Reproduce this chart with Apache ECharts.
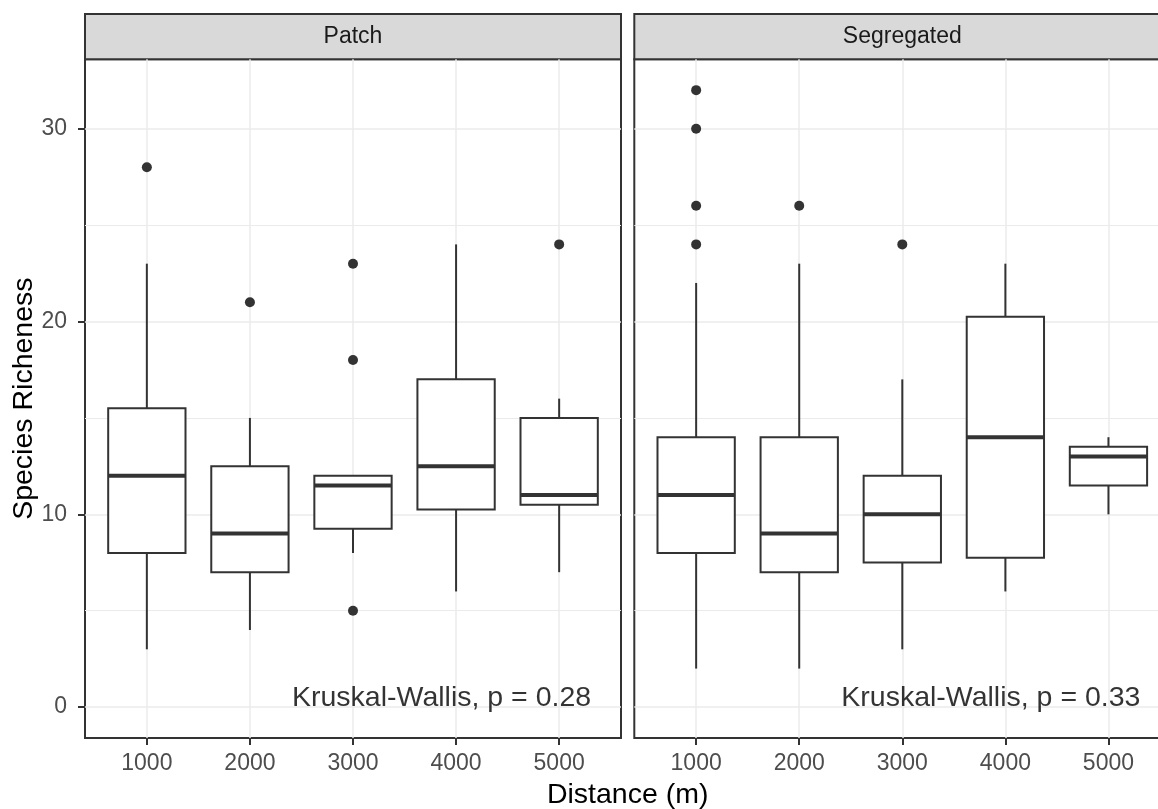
<!DOCTYPE html>
<html><head><meta charset="utf-8">
<script src="https://cdn.jsdelivr.net/npm/echarts@6/dist/echarts.min.js"></script>
<style>html,body{margin:0;padding:0;background:#fff}#chart{width:1158px;height:809px}</style>
</head><body><div id="chart"></div>
<script>
// ---- data ----
const categories = ['1000', '2000', '3000', '4000', '5000'];
const panelNames = ['Patch', 'Segregated'];
const pValues = ['0.28', '0.33'];
const yTicks = [0, 10, 20, 30];
const yMinorTicks = [5, 15, 25];

const patchLower  = [3, 4, 8, 6, 7];
const patchQ1     = [8, 7, 9.25, 10.25, 10.5];
const patchMedian = [12, 9, 11.5, 12.5, 11];
const patchQ3     = [15.5, 12.5, 12, 17, 15];
const patchUpper  = [23, 15, 12, 24, 16];
const patchOutliers = [[28], [21], [23, 18, 5], [], [24]];

const segLower  = [2, 2, 3, 6, 10];
const segQ1     = [8, 7, 7.5, 7.75, 11.5];
const segMedian = [11, 9, 10, 14, 13];
const segQ3     = [14, 14, 12, 20.25, 13.5];
const segUpper  = [22, 23, 17, 23, 14];
const segOutliers = [[32, 30, 26, 24], [26], [24], [], []];

// ---- layout / style ----
const FONT = '"Liberation Sans", Arial, sans-serif';
const DARK = '#333333';
const GRIDC = '#ebebeb';
const BOX_W = 0.75;
const panelLeft = [85, 634.3];
const panelTop = 59.3, panelW = 536, panelH = 678.7;
const stripTop = 14;
const yMin = -1.6, yMax = 33.6;
const xMin = 0.4, xMax = 5.6;
const catPos = categories.map((c, i) => i + 1);

const panels = [
  {lower: patchLower, q1: patchQ1, med: patchMedian, q3: patchQ3, upper: patchUpper, out: patchOutliers},
  {lower: segLower, q1: segQ1, med: segMedian, q3: segQ3, upper: segUpper, out: segOutliers}
];

const grid = [], xAxis = [], yAxis = [], series = [], graphic = [];

panels.forEach((p, gi) => {
  grid.push({left: panelLeft[gi], top: panelTop, width: panelW, height: panelH,
    outerBoundsMode: 'none', containLabel: false,
    show: true, backgroundColor: '#ffffff', borderColor: DARK, borderWidth: 2});
  xAxis.push({type: 'value', gridIndex: gi, min: xMin, max: xMax, position: 'bottom',
    axisLine: {show: false, onZero: false},
    axisTick: {show: true, length: 7, lineStyle: {color: DARK, width: 2}, customValues: catPos},
    axisLabel: {customValues: catPos, formatter: v => categories[Math.round(v) - 1],
      color: '#4d4d4d', fontSize: 23, fontFamily: FONT, margin: 14},
    splitLine: {show: true, lineStyle: {color: GRIDC, width: 1.5}}});
  // major y
  yAxis.push({type: 'value', gridIndex: gi, min: yMin, max: yMax, position: 'left',
    axisLine: {show: false, onZero: false},
    axisTick: {show: gi === 0, length: 7, lineStyle: {color: DARK, width: 2}, customValues: yTicks},
    axisLabel: {show: gi === 0, customValues: yTicks, color: '#4d4d4d', fontSize: 23, fontFamily: FONT, margin: 18},
    splitLine: {show: true, lineStyle: {color: GRIDC, width: 1.5}}});
  // minor y gridlines
  yAxis.push({type: 'value', gridIndex: gi, min: yMin, max: yMax, position: 'left',
    axisLine: {show: false, onZero: false},
    axisTick: {show: false, customValues: yMinorTicks},
    axisLabel: {show: false, customValues: yMinorTicks},
    splitLine: {show: true, lineStyle: {color: GRIDC, width: 1.2}}});

  const yIdx = gi * 2;
  series.push({
    type: 'custom', xAxisIndex: gi, yAxisIndex: yIdx, z: 3,
    data: categories.map((c, i) => [catPos[i], p.lower[i], p.q1[i], p.med[i], p.q3[i], p.upper[i]]),
    encode: {x: 0, y: [1, 2, 3, 4, 5]},
    renderItem: function (params, api) {
      const x = api.value(0);
      const lo = api.coord([x, api.value(1)]);
      const q1 = api.coord([x, api.value(2)]);
      const md = api.coord([x, api.value(3)]);
      const q3 = api.coord([x, api.value(4)]);
      const hi = api.coord([x, api.value(5)]);
      const half = api.size([BOX_W, 0])[0] / 2;
      const cx = lo[0];
      const ls = {stroke: DARK, lineWidth: 2, fill: null};
      return {type: 'group', children: [
        {type: 'line', shape: {x1: cx, y1: lo[1], x2: cx, y2: q1[1]}, style: ls},
        {type: 'line', shape: {x1: cx, y1: q3[1], x2: cx, y2: hi[1]}, style: ls},
        {type: 'rect', shape: {x: cx - half, y: q3[1], width: 2 * half, height: q1[1] - q3[1]},
          style: {fill: '#ffffff', stroke: DARK, lineWidth: 2}},
        {type: 'line', shape: {x1: cx - half, y1: md[1], x2: cx + half, y2: md[1]},
          style: {stroke: DARK, lineWidth: 4}}
      ]};
    }
  });
  const outData = [];
  p.out.forEach((arr, i) => arr.forEach(v => outData.push([catPos[i], v])));
  series.push({type: 'scatter', xAxisIndex: gi, yAxisIndex: yIdx, z: 4, symbol: 'circle', symbolSize: 10,
    itemStyle: {color: DARK, opacity: 1}, data: outData, silent: true});
  // Kruskal-Wallis annotation anchored in data coordinates
  series.push({type: 'scatter', xAxisIndex: gi, yAxisIndex: yIdx, z: 5, symbolSize: 0, silent: true,
    data: [[5.31, 0.45]],
    label: {show: true, position: [0, 0], align: 'right', verticalAlign: 'middle',
      formatter: 'Kruskal-Wallis, p = ' + pValues[gi], color: '#000000', fontSize: 28.5, fontFamily: FONT}});

  graphic.push({type: 'rect', shape: {x: panelLeft[gi], y: stripTop, width: panelW, height: panelTop - stripTop},
    style: {fill: '#d9d9d9', stroke: DARK, lineWidth: 2}});
  graphic.push({type: 'text', x: panelLeft[gi] + panelW / 2, y: (stripTop + panelTop) / 2,
    style: {text: panelNames[gi], fill: '#1a1a1a', fontSize: 23, fontFamily: FONT, align: 'center', verticalAlign: 'middle'}});
});

graphic.push({type: 'text', x: (panelLeft[0] + panelLeft[1] + panelW) / 2, y: 795,
  style: {text: 'Distance (m)', fill: '#000000', fontSize: 28.5, fontFamily: FONT, align: 'center', verticalAlign: 'middle'}});
graphic.push({type: 'text', x: 24, y: panelTop + panelH / 2, rotation: Math.PI / 2,
  style: {text: 'Species Richeness', fill: '#000000', fontSize: 28.5, fontFamily: FONT, align: 'center', verticalAlign: 'middle'}});

const chart = echarts.init(document.getElementById('chart'));
chart.setOption({animation: false, backgroundColor: '#ffffff', grid, xAxis, yAxis, series, graphic});
</script>
</body></html>
